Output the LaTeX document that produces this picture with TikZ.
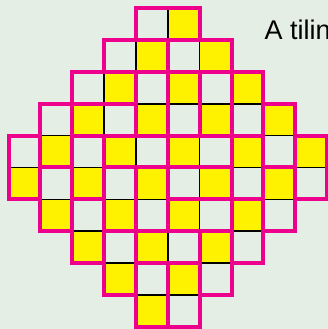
\documentclass[tikz,border=0pt]{standalone}
\usepackage{fontspec}
\setmainfont{Liberation Sans}
\definecolor{bgcol}{RGB}{228,238,228}
\definecolor{tileyellow}{RGB}{255,242,0}
\definecolor{tilemag}{RGB}{236,0,140}
\begin{document}
\begin{tikzpicture}[x=1pt,y=-1pt,
  gridline/.style={draw=black,line width=1.5pt},
  domino/.style={draw=tilemag,line width=4pt,line join=miter},
  yellowcell/.style={fill=tileyellow}]
\def\cs{31.85}
\def\ox{8.6}
\def\oy{8.2}
\fill[bgcol] (0,0) rectangle (328,329);
\useasboundingbox (0,0) rectangle (328,329);
% cells
\foreach \r in {0,...,9} {
  \pgfmathtruncatemacro\ca{\r<5 ? 4-\r : \r-5}
  \pgfmathtruncatemacro\cb{\r<5 ? 5+\r : 14-\r}
  \foreach \c in {\ca,...,\cb} {
    \pgfmathtruncatemacro\pp{mod(\r+\c,2)}
    \ifnum\pp=1
      \fill[yellowcell] (\ox+\c*\cs, \oy+\r*\cs) rectangle ++(\cs,\cs);
    \fi
    \draw[gridline] (\ox+\c*\cs, \oy+\r*\cs) rectangle ++(\cs,\cs);
  }
}
% horizontal dominoes
\foreach \r/\c in {0/4,1/3,1/5,2/2,3/2,4/3,4/5,5/5,6/5,7/4}
  \draw[domino] (\ox+\c*\cs, \oy+\r*\cs) rectangle ++(2*\cs,\cs);
% vertical dominoes
\foreach \r/\c in {2/4,2/5,2/6,2/7,3/1,3/8,4/0,4/2,4/7,4/9,5/1,5/3,5/4,5/8,6/2,6/7,7/3,7/6,8/4,8/5}
  \draw[domino] (\ox+\c*\cs, \oy+\r*\cs) rectangle ++(\cs,2*\cs);
\node[anchor=base west,inner sep=0pt,font=\fontsize{27}{31}\selectfont] (title) at (264.5,39.5) {A tilin};
\end{tikzpicture}
\end{document}
